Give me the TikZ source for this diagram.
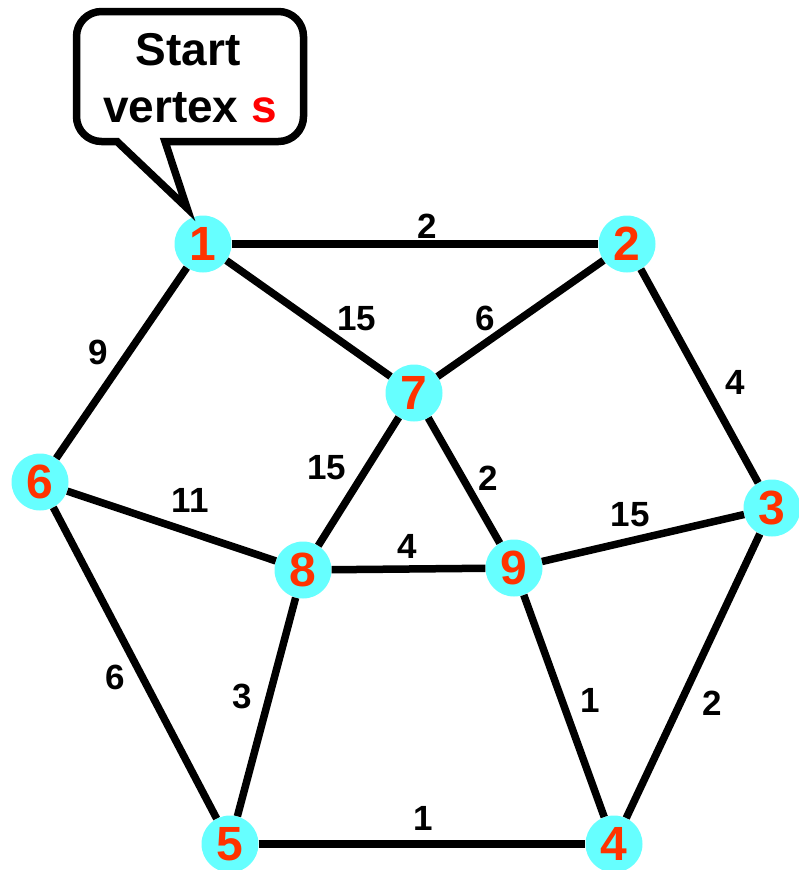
\documentclass[tikz,border=0pt]{standalone}
\usepackage{fontspec}
\setmainfont{Liberation Sans}
\definecolor{vfill}{HTML}{66FFFF}
\definecolor{vlabel}{HTML}{FF3300}
\definecolor{sred}{HTML}{FF0000}
\begin{document}
\begin{tikzpicture}[x=1pt,y=-1pt,
  vertex/.style={circle,fill=vfill,minimum size=57pt,inner sep=0pt,
    text=vlabel,font=\fontsize{48}{48}\selectfont\bfseries},
  edge/.style={line width=7.5pt,black},
  weight/.style={inner sep=0pt,font=\fontsize{35}{35}\selectfont\bfseries},
  bubble/.style={line width=7.5pt,line join=miter,fill=white},
  bubbletext/.style={inner sep=0pt,anchor=base,font=\fontsize{46}{46}\selectfont\bfseries}]
\useasboundingbox (0,0) rectangle (798,870);

% vertices
\node[vertex] (v1) at (203,244) {1};
\node[vertex] (v2) at (627,244) {2};
\node[vertex] (v3) at (772,508) {3};
\node[vertex] (v4) at (614,844) {4};
\node[vertex] (v5) at (230,844) {5};
\node[vertex] (v6) at (40,482) {6};
\node[vertex] (v7) at (414,393) {7};
\node[vertex] (v8) at (303,570) {8};
\node[vertex] (v9) at (514,568) {9};

% edges
\draw[edge] (v1) -- (v2);
\draw[edge] (v1) -- (v7);
\draw[edge] (v2) -- (v7);
\draw[edge] (v2) -- (v3);
\draw[edge] (v1) -- (v6);
\draw[edge] (v6) -- (v8);
\draw[edge] (v7) -- (v8);
\draw[edge] (v7) -- (v9);
\draw[edge] (v8) -- (v9);
\draw[edge] (v9) -- (v3);
\draw[edge] (v6) -- (v5);
\draw[edge] (v8) -- (v5);
\draw[edge] (v9) -- (v4);
\draw[edge] (v3) -- (v4);
\draw[edge] (v5) -- (v4);

% edge weights
\node[weight] (w12) at (427,226) {2};
\node[weight] (w17) at (357,319) {15};
\node[weight] (w27) at (485,318) {6};
\node[weight] (w23) at (735,382) {4};
\node[weight] (w16) at (98,352) {9};
\node[weight] (w68) at (190,500) {11};
\node[weight] (w78) at (327,468) {15};
\node[weight] (w79) at (488,478) {2};
\node[weight] (w89) at (407,546) {4};
\node[weight] (w93) at (630,515) {15};
\node[weight] (w65) at (115,677) {6};
\node[weight] (w85) at (242,696) {3};
\node[weight] (w94) at (590,700) {1};
\node[weight] (w34) at (712,703) {2};
\node[weight] (w54) at (423,818) {1};

% speech bubble pointing at the start vertex
\coordinate (tip) at (187,208);
\draw[bubble] (165,141.5) -- (278.5,141.5) arc (90:0:25)
  -- (303.5,36.5) arc (0:-90:25)
  -- (101.5,11.5) arc (-90:-180:25)
  -- (76.5,116.5) arc (180:90:25)
  -- (117,141.5) -- (tip) -- cycle;
\node[bubbletext] (t1) at (188,65) {Start};
\node[bubbletext] (t2) at (190,122) {vertex \textcolor{sred}{s}};
\end{tikzpicture}
\end{document}
